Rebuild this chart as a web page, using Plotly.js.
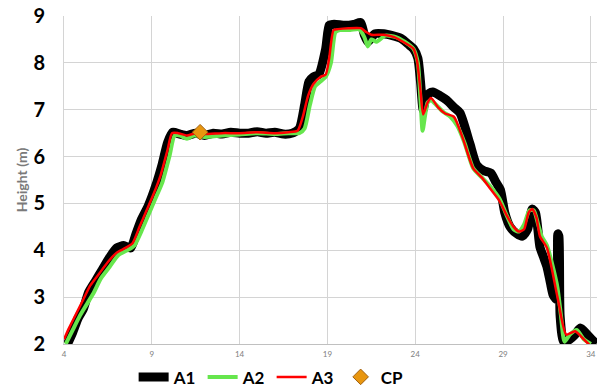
<!DOCTYPE html>
<html>
<head>
<meta charset="utf-8">
<script src="https://cdn.plot.ly/plotly-3.0.1.min.js"></script>
<style>
  html, body { margin: 0; padding: 0; background: #fff; }
  #chart { width: 597px; height: 387px; }
</style>
</head>
<body>
<div id="chart"></div>
<script>
// Height profile along the section (m)
const a1X = [4.2,4.5,4.8,5.1,5.4,5.8,6.2,6.6,7.0,7.4,7.8,8.1,8.4,8.8,9.2,9.6,9.9,10.2,10.6,11.0,11.5,12.0,12.5,13,13.5,14,14.5,15,15.5,16,16.5,17,17.4,17.7,17.95,18.2,18.5,18.9,19.1,19.3,19.5,20,20.5,20.9,21.1,21.3,21.7,22.2,22.7,23.2,23.6,23.9,24.15,24.3,24.45,24.6,24.8,25.0,25.4,25.8,26.2,26.55,27.1,27.5,27.9,28.3,28.6,28.85,29.1,29.4,29.8,30.1,30.4,30.66,30.85,31.1,31.3,31.5,31.7,31.85,32.05,32.12,32.18,32.25,32.45,32.8,33.1,33.4,33.8,34.3];
const a1Y = [2.0,2.25,2.55,2.75,3.1,3.35,3.6,3.85,4.05,4.1,4.05,4.35,4.65,4.95,5.35,5.85,6.3,6.52,6.48,6.45,6.5,6.45,6.5,6.48,6.52,6.5,6.5,6.53,6.5,6.52,6.48,6.5,6.6,7.1,7.6,7.7,7.75,8.3,8.8,8.82,8.82,8.8,8.82,8.86,8.6,8.45,8.62,8.62,8.58,8.52,8.4,8.3,8.1,7.6,7.0,7.25,7.35,7.38,7.3,7.2,7.05,6.93,6.29,5.82,5.7,5.65,5.45,5.29,4.8,4.5,4.35,4.3,4.45,4.88,4.8,4.07,3.86,3.65,3.3,3.05,2.95,4.35,4.3,2.6,2.05,2.1,2.2,2.34,2.2,2.0];

const a2X = [4.1,4.5,4.9,5.3,5.7,6.1,6.6,7.1,7.6,8.0,8.4,8.8,9.2,9.6,10.0,10.3,10.6,11.0,11.4,12,13,14,15,16,16.8,17.4,17.7,18.0,18.3,18.6,18.9,19.2,19.45,19.7,20.3,20.8,21.1,21.3,21.5,21.8,22.3,22.9,23.4,23.9,24.15,24.3,24.42,24.55,24.7,24.9,25.2,25.6,26.0,26.4,26.8,27.3,27.8,28.3,28.8,29.2,29.6,29.9,30.2,30.5,30.75,31.0,31.2,31.5,31.8,32.1,32.3,32.5,32.8,33.2,33.6,34.0];
const a2Y = [2.0,2.3,2.6,2.85,3.1,3.4,3.65,3.9,4.0,4.1,4.4,4.75,5.1,5.45,6.0,6.45,6.45,6.38,6.45,6.42,6.45,6.47,6.5,6.48,6.5,6.5,6.6,7.1,7.5,7.6,7.7,8.0,8.65,8.7,8.7,8.72,8.55,8.35,8.5,8.45,8.58,8.55,8.45,8.3,8.0,7.2,6.55,6.85,7.15,7.2,7.1,6.95,6.85,6.65,6.3,5.75,5.55,5.35,5.1,4.75,4.45,4.4,4.55,4.85,4.85,4.55,4.3,4.1,3.7,3.2,2.6,2.05,2.2,2.3,2.1,2.0];

const a3X = [4.0,4.3,4.7,5.1,5.5,6.0,6.5,7.0,7.5,7.9,8.3,8.7,9.1,9.5,9.9,10.15,10.5,11.0,11.5,12,13,14,15,16,16.8,17.3,17.6,17.9,18.2,18.6,18.9,19.1,19.35,19.6,20.2,20.9,21.2,21.5,22.2,22.8,23.3,23.9,24.1,24.3,24.45,24.7,24.9,25.3,25.7,26.2,26.7,27.3,27.8,28.3,28.8,29.2,29.6,29.9,30.2,30.45,30.66,30.9,31.1,31.5,32.1,32.6,33.1,33.6,34.0];
const a3Y = [2.1,2.35,2.65,2.95,3.25,3.5,3.75,3.95,4.05,4.15,4.5,4.85,5.2,5.6,6.15,6.5,6.5,6.45,6.5,6.48,6.5,6.5,6.52,6.5,6.52,6.55,6.85,7.3,7.55,7.7,7.75,8.1,8.7,8.72,8.74,8.74,8.66,8.6,8.6,8.55,8.45,8.3,8.05,7.4,6.9,7.15,7.25,7.05,6.92,6.85,6.4,5.75,5.55,5.3,5.05,4.75,4.5,4.4,4.45,4.8,4.88,4.7,4.3,4.05,3.0,2.2,2.27,2.1,1.95];

const cpX = [11.75];
const cpY = [6.52];

const traces = [
  { x: a1X, y: a1Y, name: 'A1', mode: 'lines',
    line: { color: '#000000', width: 9, shape: 'spline', smoothing: 0.6 } },
  { x: a2X, y: a2Y, name: 'A2', mode: 'lines',
    line: { color: '#66e64d', width: 4, shape: 'spline', smoothing: 0.6 } },
  { x: a3X, y: a3Y, name: 'A3', mode: 'lines',
    line: { color: '#ff0000', width: 2.5, shape: 'spline', smoothing: 0.6 } },
  { x: cpX, y: cpY, name: 'CP', mode: 'markers',
    marker: { symbol: 'diamond', size: 12, color: '#e8960f', line: { color: '#a06010', width: 1 } } }
];

const layout = {
  width: 597, height: 387,
  margin: { l: 64, r: 0, t: 16, b: 43 },
  paper_bgcolor: '#ffffff', plot_bgcolor: '#ffffff',
  showlegend: true,
  legend: {
    orientation: 'h', xref: 'container', x: 0.455, xanchor: 'center',
    yref: 'container', y: 0.025, yanchor: 'middle',
    font: { family: 'Lato, "Liberation Sans", sans-serif', size: 17, color: '#000', weight: 'bold' },
    itemwidth: 30, entrywidth: 24, entrywidthmode: 'pixels', tracegroupgap: 0
  },
  xaxis: {
    range: [4, 34.35],
    tickvals: [4, 9, 14, 19, 24, 29, 34],
    ticktext: ['4', '9', '14', '19', '24', '29', '34'],
    tickfont: { family: 'Lato, sans-serif', size: 8, color: '#808080' },
    showgrid: true, gridcolor: '#d4d4d4', gridwidth: 1,
    zeroline: false,
    showline: true, linecolor: '#c0c0c0', linewidth: 1,
    ticks: 'outside', ticklen: 2, tickcolor: 'rgba(0,0,0,0)'
  },
  yaxis: {
    range: [2, 9],
    dtick: 1,
    tickfont: { family: 'Lato, sans-serif', size: 20, color: '#000', weight: 'bold' },
    showgrid: true, gridcolor: '#d4d4d4', gridwidth: 1,
    zeroline: false,
    showline: true, linecolor: '#d4d4d4', linewidth: 1,
    ticks: 'outside', ticklen: 14, tickcolor: 'rgba(0,0,0,0)',
    title: { text: 'Height (m)', standoff: 2,
      font: { family: 'Lato, sans-serif', size: 14, color: '#7a7a7a', weight: 'bold' } }
  }
};

Plotly.newPlot('chart', traces, layout, { displayModeBar: false, staticPlot: true });
</script>
</body>
</html>
